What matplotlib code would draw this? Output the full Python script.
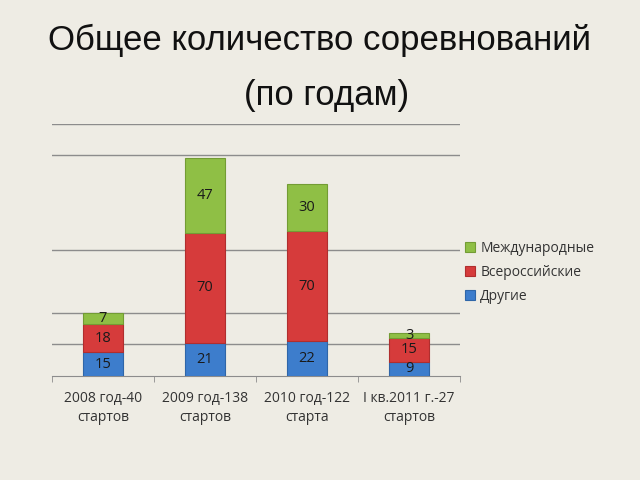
import matplotlib.pyplot as plt
import numpy as np

# data
categories = ["2008 год-40\nстартов", "2009 год-138\nстартов",
              "2010 год-122\nстарта", "I кв.2011 г.-27\nстартов"]
drugie = [15, 21, 22, 9]
vseross = [18, 70, 70, 15]
mezhd = [7, 47, 30, 3]
series_names = ["Другие", "Всероссийские", "Международные"]
grid_values = [20, 40, 80, 140, 160]

bg = "#eeece4"
colors = ["#3d7dcc", "#d63b3b", "#8fbf45"]
edges = ["#2f66a8", "#b02e2e", "#739c34"]

plt.rcParams["font.family"] = ["Open Sans", "DejaVu Sans"]

fig = plt.figure(figsize=(6.4, 4.8), dpi=100, facecolor=bg)
ax = fig.add_axes([0.081, 0.217, 0.638, 0.525])
ax.set_facecolor(bg)

x = np.arange(len(categories))
bottom = np.zeros(len(categories))
bars = []
for vals, c, ec, name in zip([drugie, vseross, mezhd], colors, edges, series_names):
    b = ax.bar(x, vals, width=0.39, bottom=bottom, color=c, edgecolor=ec,
               linewidth=0.8, label=name, zorder=3)
    for xi, v, b0 in zip(x, vals, bottom):
        ax.text(xi, b0 + v / 2, str(v), ha="center", va="center",
                fontsize=10.5, color="#1a1a1a", zorder=4)
    bottom += np.array(vals)
    bars.append(b)

for g in grid_values:
    ax.axhline(g, color="#8c8c8c", linewidth=1, zorder=1)

ax.set_xlim(-0.5, len(categories) - 0.5)
ax.set_ylim(0, 160)
ax.set_yticks([])
ax.set_xticks(x)
ax.set_xticklabels(categories, fontsize=10, color="#333333", linespacing=1.35)
ax.tick_params(axis="x", length=0, pad=11)
# boundary ticks
ax.set_xticks(np.arange(-0.5, len(categories)), minor=True)
ax.tick_params(axis="x", which="minor", length=4, color="#8c8c8c", direction="out")
for s in ["top", "right", "left"]:
    ax.spines[s].set_visible(False)
ax.spines["bottom"].set_color("#8c8c8c")

handles = bars[::-1]
leg = fig.legend(handles, series_names[::-1], loc="upper left",
                 bbox_to_anchor=(0.707, 0.525), frameon=False, fontsize=10,
                 handlelength=0.7, handleheight=0.7, handletextpad=0.4,
                 labelspacing=0.65)
for t in leg.get_texts():
    t.set_color("#333333")

fig.text(0.5, 0.915, "Общее количество соревнований", ha="center", va="center",
         fontsize=25, family=["Liberation Sans", "DejaVu Sans"], color="#111111")
fig.text(0.51, 0.80, "(по годам)", ha="center", va="center",
         fontsize=25, family=["Liberation Sans", "DejaVu Sans"], color="#111111")

fig.savefig("out.png", dpi=100, facecolor=bg)
